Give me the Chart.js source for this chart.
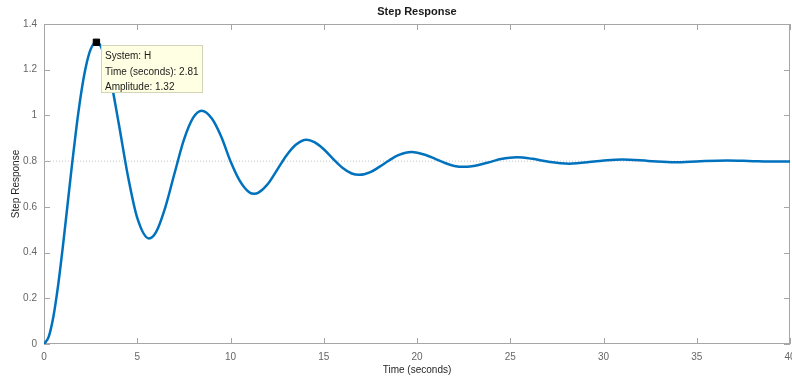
<!DOCTYPE html>
<html>
<head>
<meta charset="utf-8">
<script src="https://cdn.jsdelivr.net/npm/chart.js@4/dist/chart.umd.min.js"></script>
<style>
  html, body { margin: 0; padding: 0; background: #fff; }
  #wrap { width: 792px; height: 378px; }
</style>
</head>
<body>
<div id="wrap"><canvas id="stepChart" width="792" height="378"></canvas></div>
<script>
// ----------------------------
// Data
// ----------------------------
const times = [
  0, 0.25, 0.5, 0.75, 1, 1.25, 1.5, 1.75, 2, 2.25, 2.5, 2.81, 3, 3.5, 4, 4.5, 5, 5.63,
  6, 6.5, 7, 7.5, 8, 8.45, 9, 9.5, 10, 10.5, 11, 11.27, 11.5, 12, 12.5, 13, 13.5,
  14.08, 14.5, 15, 15.5, 16, 16.5, 16.9, 17.5, 18, 18.5, 19, 19.7, 20.5, 21, 21.5,
  22, 22.54, 23.25, 24, 24.5, 25.35, 26.2, 27, 28.17, 29.5, 30.2, 31, 32.4, 33.8,
  35.2, 36.63, 38, 39.45, 40
];
const amplitudes = [
  0, 0.031, 0.118, 0.252, 0.418, 0.600, 0.784, 0.955, 1.102, 1.215, 1.289, 1.320, 1.310, 1.185, 0.968, 0.735, 0.552, 0.462,
  0.488, 0.597, 0.747, 0.893, 0.990, 1.021, 0.987, 0.908, 0.800, 0.714, 0.664, 0.657, 0.662, 0.700, 0.762, 0.825, 0.872,
  0.894, 0.883, 0.852, 0.810, 0.771, 0.746, 0.740, 0.752, 0.776, 0.803, 0.826, 0.840, 0.826, 0.809, 0.792,
  0.779, 0.775, 0.782, 0.798, 0.809, 0.817, 0.810, 0.798, 0.789, 0.798, 0.804, 0.807, 0.801, 0.795,
  0.800, 0.803, 0.800, 0.798, 0.798
];
const finalValue = 0.8;
const peakTime = 2.81;
const peakAmp = 1.32;
const xTicks = [0, 5, 10, 15, 20, 25, 30, 35, 40];
const yTicks = [0, 0.2, 0.4, 0.6, 0.8, 1, 1.2, 1.4];
const tipLines = ['System: H', 'Time (seconds): 2.81', 'Amplitude: 1.32'];

const FONT = '"Liberation Sans", Arial, Helvetica, sans-serif';
Chart.defaults.font.family = FONT;

// ----------------------------
// Box, inward ticks, title and data tip
// ----------------------------
const matlabAxes = {
  id: 'matlabAxes',
  beforeDatasetsDraw(chart) {
    const { ctx, chartArea: a, scales: { x, y } } = chart;
    ctx.save();
    ctx.strokeStyle = '#a6a6a6';
    ctx.lineWidth = 1;
    ctx.strokeRect(a.left + 0.5, a.top + 0.5, a.right - a.left - 1, a.bottom - a.top - 1);
    ctx.beginPath();
    xTicks.forEach(v => {
      const px = Math.round(x.getPixelForValue(v)) + 0.5;
      ctx.moveTo(px, a.bottom); ctx.lineTo(px, a.bottom - 6);
      ctx.moveTo(px, a.top); ctx.lineTo(px, a.top + 6);
    });
    yTicks.forEach(v => {
      const py = Math.round(y.getPixelForValue(v)) + 0.5;
      ctx.moveTo(a.left, py); ctx.lineTo(a.left + 6, py);
      ctx.moveTo(a.right, py); ctx.lineTo(a.right - 6, py);
    });
    ctx.stroke();
    // title, centred on the axes
    ctx.fillStyle = '#1a1a1a';
    ctx.font = 'bold 11px ' + FONT;
    ctx.textAlign = 'center';
    ctx.textBaseline = 'middle';
    ctx.fillText('Step Response', (a.left + a.right) / 2, 11.5);
    ctx.restore();
  },
  afterDatasetsDraw(chart) {
    const { ctx, scales: { x, y } } = chart;
    const px = x.getPixelForValue(peakTime);
    const py = y.getPixelForValue(peakAmp);
    const bx = Math.round(px + 5) + 0.5, by = Math.round(py + 3) + 0.5;
    ctx.save();
    ctx.fillStyle = '#ffffe3';
    ctx.strokeStyle = '#d4d4b8';
    ctx.lineWidth = 1;
    ctx.fillRect(bx, by, 101, 47);
    ctx.strokeRect(bx, by, 101, 47);
    ctx.fillStyle = '#1a1a1a';
    ctx.font = '10px ' + FONT;
    ctx.textAlign = 'left';
    ctx.textBaseline = 'middle';
    tipLines.forEach((t, i) => ctx.fillText(t, bx + 3.5, by + 11 + i * 15.5));
    ctx.restore();
  }
};

// ----------------------------
// Chart
// ----------------------------
new Chart(document.getElementById('stepChart'), {
  type: 'line',
  data: {
    datasets: [
      {
        label: 'peak',
        data: [{ x: peakTime, y: peakAmp }],
        showLine: false,
        pointStyle: 'rect',
        pointRadius: 4.5,
        backgroundColor: '#000',
        borderColor: '#000',
        borderWidth: 1
      },
      {
        label: 'H',
        data: times.map((t, i) => ({ x: t, y: amplitudes[i] })),
        borderColor: '#0072BD',
        borderWidth: 2.5,
        pointRadius: 0,
        cubicInterpolationMode: 'monotone',
        fill: false
      },
      {
        label: 'final value',
        data: [{ x: 0, y: finalValue }, { x: 40, y: finalValue }],
        borderColor: '#c4c4c4',
        borderWidth: 1,
        borderDash: [1, 2],
        pointRadius: 0
      }
    ]
  },
  options: {
    responsive: false,
    animation: false,
    devicePixelRatio: 1,
    layout: { autoPadding: false, padding: { top: 24, right: 2, bottom: 0, left: 0 } },
    plugins: { legend: { display: false }, tooltip: { enabled: false }, title: { display: false } },
    scales: {
      x: {
        type: 'linear', min: 0, max: 40,
        afterFit: s => { s.height = 34; s.paddingLeft = 0; s.paddingRight = 0; },
        afterBuildTicks: s => { s.ticks = xTicks.map(v => ({ value: v })); },
        ticks: { color: '#666', font: { size: 10 }, padding: 7, maxRotation: 0, autoSkip: false },
        grid: { display: false, drawTicks: false },
        border: { display: false },
        title: { display: true, text: 'Time (seconds)', color: '#262626', font: { size: 10 }, padding: { top: 0, bottom: 2 } }
      },
      y: {
        type: 'linear', min: 0, max: 1.4,
        afterFit: s => { s.width = 44; s.paddingTop = 0; s.paddingBottom = 0; },
        afterBuildTicks: s => { s.ticks = yTicks.map(v => ({ value: v })); },
        ticks: { color: '#666', font: { size: 10 }, padding: 7, callback: v => String(v) },
        grid: { display: false, drawTicks: false },
        border: { display: false },
        title: { display: true, text: 'Step Response', color: '#262626', font: { size: 10 }, padding: { top: 10.5, bottom: 0 } }
      }
    }
  },
  plugins: [matlabAxes]
});
</script>
</body>
</html>
